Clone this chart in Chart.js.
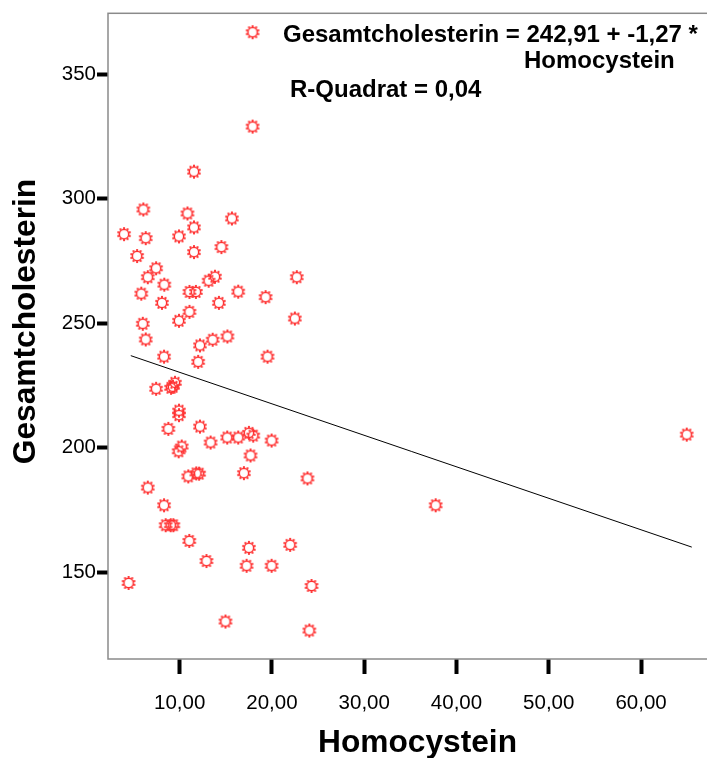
<!DOCTYPE html>
<html><head><meta charset="utf-8">
<script src="https://cdn.jsdelivr.net/npm/chart.js@4"></script>
<style>html,body{margin:0;padding:0;background:#fff;overflow:hidden}#wrap{width:707px;height:758px;position:relative}</style>
</head><body><div id="wrap"><canvas id="c" width="707" height="758"></canvas></div>
<script>
// Data
const homocystein = [17.90,17.90,11.55,6.06,10.84,15.66,3.97,6.32,9.92,11.55,11.55,14.52,5.38,7.44,6.54,13.82,13.14,22.69,8.33,5.84,11.06,11.76,16.34,19.31,8.08,14.25,11.06,9.92,6.00,22.48,6.32,13.57,12.20,15.17,19.52,8.30,12.00,7.44,9.06,9.27,9.49,9.92,9.92,8.77,12.20,15.15,16.34,17.50,17.97,19.96,13.35,10.22,9.89,17.68,16.96,23.85,10.93,11.80,12.10,6.54,8.30,8.48,9.03,9.31,11.04,17.50,21.97,12.90,17.25,19.96,4.46,24.29,14.96,24.05,37.74,64.95];
const gesamtcholesterin = [366.8,328.9,310.8,295.6,294.0,292.0,285.7,284.1,284.8,288.4,278.5,280.5,276.9,272.0,268.4,268.6,267.0,268.4,265.4,261.8,262.5,262.5,262.6,260.4,258.1,258.1,254.5,250.9,249.7,251.8,243.4,243.3,241.0,244.6,236.5,236.5,234.4,223.6,224.0,224.4,226.0,214.8,213.0,207.5,208.4,204.0,204.0,205.9,204.8,202.8,202.0,200.4,198.5,196.8,189.7,187.6,188.4,189.6,189.5,183.9,176.8,168.8,168.8,168.8,162.5,159.7,160.9,154.4,152.5,152.5,145.6,144.4,130.1,126.5,176.8,205.2];
const fitX = [4.7, 65.5];
const fitY = [236.9, 160.0];
const xTicks = [10,20,30,40,50,60];
const yTicks = [150,200,250,300,350];
const equationLines = ['Gesamtcholesterin = 242,91 + -1,27 *', 'Homocystein'];
const rSquaredText = 'R-Quadrat = 0,04';
const xTitle = 'Homocystein';
const yTitle = 'Gesamtcholesterin';

const FONT = '"Liberation Sans", Arial, sans-serif';

// marker: ring with small nubs
function makeMarker(){
  const c = document.createElement('canvas');
  c.width = 16; c.height = 16;
  const g = c.getContext('2d');
  g.strokeStyle = '#ff2e2e';
  g.lineWidth = 1.5;
  g.beginPath(); g.arc(8,8,4.7,0,Math.PI*2); g.stroke();
  g.fillStyle = '#ff3c3c';
  for(let i=0;i<10;i++){
    const a = i*Math.PI*2/10 + Math.PI/10;
    const px = 8+Math.cos(a)*6.0, py = 8+Math.sin(a)*6.0;
    g.fillRect(px-1,py-1,2,2);
  }
  return c;
}
const marker = makeMarker();

const framePlugin = {
  id:'frame',
  beforeDatasetsDraw(chart){
    const {ctx, chartArea:a} = chart;
    ctx.save();
    ctx.strokeStyle = '#8a8a8a';
    ctx.lineWidth = 1.5;
    ctx.strokeRect(a.left, a.top, a.right - a.left + 20, a.bottom - a.top);
    ctx.restore();
  },
  afterDraw(chart){
    const ctx = chart.ctx;
    ctx.save();
    ctx.fillStyle = '#000';
    ctx.textBaseline = 'alphabetic';
    ctx.textAlign = 'left';
    ctx.font = 'bold 24px ' + FONT;
    ctx.fillText(equationLines[0], 283, 42);
    ctx.fillText(equationLines[1], 524, 68);
    ctx.fillText(rSquaredText, 290, 97);
    // axis titles
    ctx.font = 'bold 31.7px ' + FONT;
    ctx.textAlign = 'center';
    ctx.fillText(xTitle, 417.5, 752);
    ctx.translate(35, 321.5);
    ctx.rotate(-Math.PI/2);
    ctx.fillText(yTitle, 0, 0);
    ctx.restore();
  }
};

const fmt = v => v.toFixed(2).replace('.', ',');

new Chart(document.getElementById('c'), {
  type:'scatter',
  data:{
    datasets:[
      {
        type:'line',
        data: fitX.map((x,i)=>({x, y: fitY[i]})),
        borderColor:'#000', borderWidth:1, pointRadius:0, fill:false, order:2
      },
      {
        data: homocystein.map((x,i)=>({x, y: gesamtcholesterin[i]})),
        pointStyle: marker, pointRadius:6, order:1
      }
    ]
  },
  options:{
    responsive:false, animation:false, devicePixelRatio:1,
    layout:{autoPadding:false, padding:{top:11,left:0,right:0,bottom:0}},
    plugins:{legend:{display:false}, tooltip:{enabled:false}},
    scales:{
      x:{
        type:'linear', min:2.23, max:67.15,
        afterBuildTicks(s){ s.ticks = xTicks.map(v=>({value:v})); },
        afterFit(s){ s.height = 99; },
        border:{display:false},
        grid:{drawOnChartArea:false, drawTicks:true, tickLength:15, tickWidth:4, tickColor:'#000'},
        ticks:{color:'#000', font:{family:FONT, size:20.5, lineHeight:1.2}, padding:17, maxRotation:0, autoSkip:false,
          callback:(v)=>fmt(v)}
      },
      y:{
        type:'linear', min:115.06, max:374.4,
        afterBuildTicks(s){ s.ticks = yTicks.map(v=>({value:v})); },
        afterFit(s){ s.width = 108; },
        border:{display:false},
        grid:{drawOnChartArea:false, drawTicks:true, tickLength:11, tickWidth:4, tickColor:'#000'},
        ticks:{color:'#000', font:{family:FONT, size:20.5}, padding:1, autoSkip:false,
          callback:(v)=>String(v)}
      }
    }
  },
  plugins:[framePlugin]
});
</script></body></html>
